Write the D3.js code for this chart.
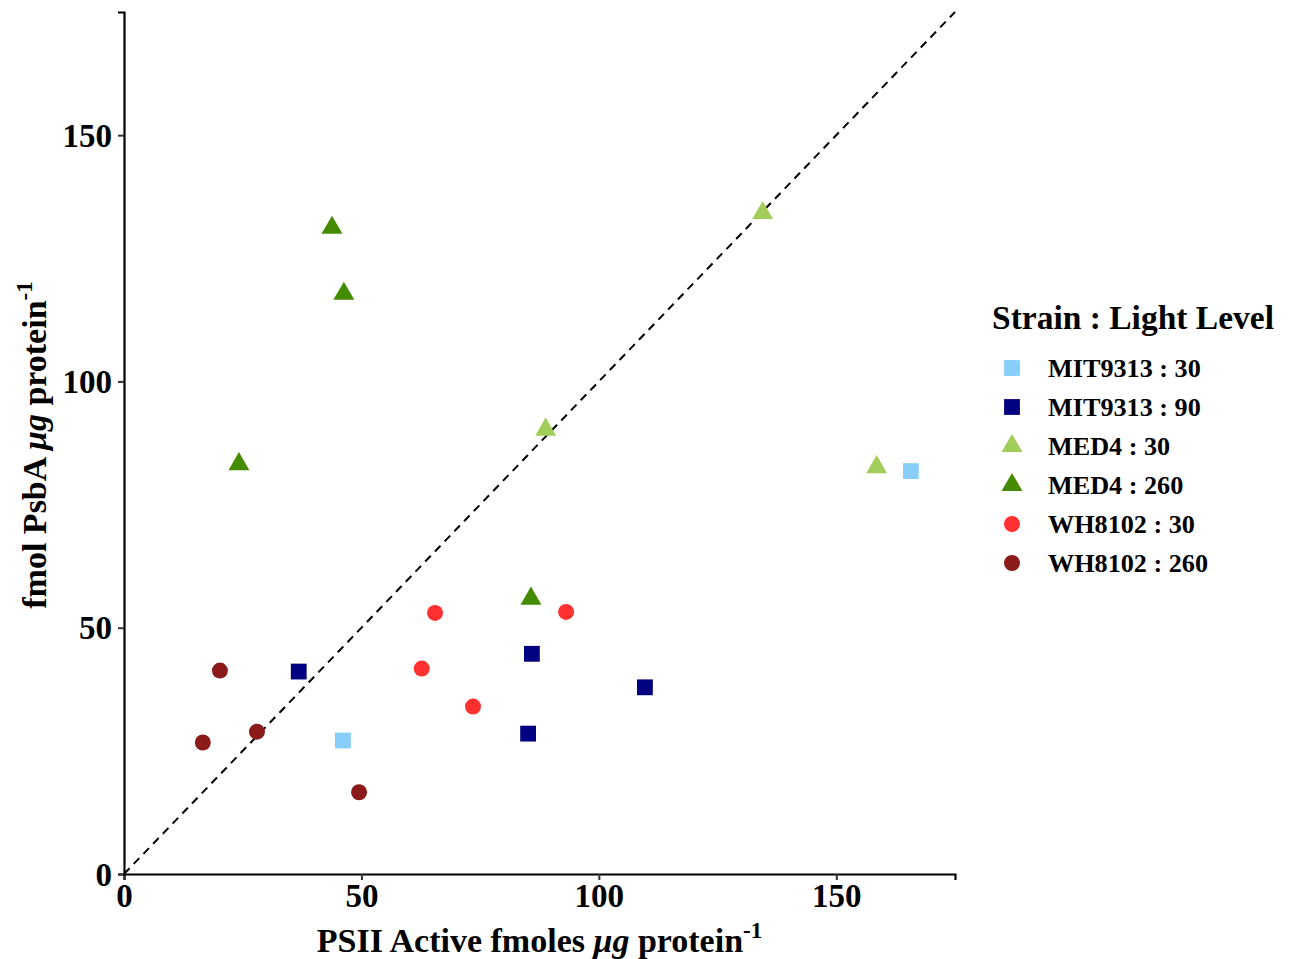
<!DOCTYPE html>
<html>
<head>
<meta charset="utf-8">
<script src="https://cdn.jsdelivr.net/npm/d3@7"></script>
<style>
  body { margin: 0; background: #fff; }
  text { font-family: "Liberation Serif", "Times New Roman", serif; font-weight: bold; }
</style>
</head>
<body>
<svg id="chart" width="1295" height="959"></svg>
<script>
// legend groups, in order
var groups = ["MIT9313 : 30", "MIT9313 : 90", "MED4 : 30", "MED4 : 260", "WH8102 : 30", "WH8102 : 260"];
var groupColors = ["#87cefa", "#000080", "#a2cd5a", "#458b00", "#ff3030", "#8b1a1a"];
var groupShapes = ["square", "square", "triangle", "triangle", "circle", "circle"];

// PSII active (x) and PsbA (y) per group
var mit30X = [46.1, 165.7];
var mit30Y = [27.1, 81.8];
var mit90X = [36.8, 85.9, 85.1, 109.7];
var mit90Y = [41.1, 44.7, 28.5, 37.9];
var med30X = [134.5, 88.8, 158.5];
var med30Y = [134.2, 90.2, 82.6];
var med260X = [43.8, 46.3, 24.2, 85.7];
var med260Y = [131.2, 117.8, 83.2, 55.9];
var wh30X = [65.5, 93.1, 62.7, 73.5];
var wh30Y = [53.0, 53.2, 41.7, 34.0];
var wh260X = [20.2, 16.6, 28.0, 49.5];
var wh260Y = [41.3, 26.7, 28.9, 16.6];

var xTicks = [0, 50, 100, 150];
var yTicks = [0, 50, 100, 150];

var seriesX = [mit30X, mit90X, med30X, med260X, wh30X, wh260X];
var seriesY = [mit30Y, mit90Y, med30Y, med260Y, wh30Y, wh260Y];

var points = [];
seriesX.forEach(function(xs, g) {
  xs.forEach(function(x, i) {
    points.push({ group: g, x: x, y: seriesY[g][i] });
  });
});

var svg = d3.select("#chart"),
  margin = { left: 124, top: 12, right: 340, bottom: 85 },
  width = 1295,
  height = 959,
  x = d3.scaleLinear().domain([0, 175]).range([margin.left, width - margin.right]),
  y = d3.scaleLinear().domain([0, 175]).range([height - margin.bottom, margin.top]),
  shapeType = { square: d3.symbolSquare, triangle: d3.symbolTriangle, circle: d3.symbolCircle },
  shapeSize = { square: 250, triangle: 190, circle: 200 };

function symbolPath(g) {
  var s = groupShapes[g];
  return d3.symbol().type(shapeType[s]).size(shapeSize[s])();
}

// diagonal 1:1 line
svg.append("line")
  .attr("x1", x(0)).attr("y1", y(0))
  .attr("x2", x(175)).attr("y2", y(175))
  .attr("stroke", "#000")
  .attr("stroke-width", 2)
  .attr("stroke-dasharray", "8,6");

// axes
var xAxis = svg.append("g")
  .attr("transform", "translate(0," + y(0) + ")")
  .call(d3.axisBottom(x).tickValues(xTicks).tickSize(6).tickPadding(3).tickFormat(d3.format("d")));
var yAxis = svg.append("g")
  .attr("transform", "translate(" + x(0) + ",0)")
  .call(d3.axisLeft(y).tickValues(yTicks).tickSize(6).tickPadding(6).tickFormat(d3.format("d")));

[xAxis, yAxis].forEach(function(a) {
  a.select(".domain").attr("stroke", "#000").attr("stroke-width", 2.2);
  a.selectAll(".tick line").attr("stroke", "#333").attr("stroke-width", 2);
  a.selectAll(".tick text")
    .attr("fill", "#000")
    .style("font-size", "33px")
    .style("font-family", "'Liberation Serif', serif")
    .style("font-weight", "bold");
});
xAxis.selectAll(".tick text").attr("dy", "0.72em");
yAxis.selectAll(".tick text").attr("dy", "0.34em");

// points
svg.append("g")
  .selectAll("path")
  .data(points)
  .enter()
  .append("path")
  .attr("d", function(d) { return symbolPath(d.group); })
  .attr("transform", function(d) { return "translate(" + x(d.x) + "," + y(d.y) + ")"; })
  .attr("fill", function(d) { return groupColors[d.group]; });

// axis titles
var xTitle = svg.append("text")
  .attr("x", (x(0) + x(175)) / 2)
  .attr("y", 952)
  .attr("text-anchor", "middle")
  .style("font-size", "34px");
xTitle.append("tspan").text("PSII Active fmoles ");
xTitle.append("tspan").style("font-style", "italic").text("\u03bcg");
xTitle.append("tspan").text(" protein");
xTitle.append("tspan").attr("dy", -14).style("font-size", "23px").text("-1");

var yTitle = svg.append("text")
  .attr("transform", "translate(46," + ((y(0) + y(175)) / 2 + 2) + ") rotate(-90)")
  .attr("text-anchor", "middle")
  .style("font-size", "34px");
yTitle.append("tspan").text("fmol PsbA ");
yTitle.append("tspan").style("font-style", "italic").text("\u03bcg");
yTitle.append("tspan").text(" protein");
yTitle.append("tspan").attr("dy", -14).style("font-size", "23px").text("-1");

// legend
var legend = svg.append("g").attr("transform", "translate(992,0)");
legend.append("text")
  .attr("x", 0)
  .attr("y", 329)
  .style("font-size", "33.5px")
  .text("Strain : Light Level");

var rows = legend.selectAll("g.row")
  .data(groups)
  .enter()
  .append("g")
  .attr("class", "row")
  .attr("transform", function(d, i) { return "translate(0," + (368 + i * 39) + ")"; });

rows.append("path")
  .attr("d", function(d, i) { return symbolPath(i); })
  .attr("transform", "translate(20,0)")
  .attr("fill", function(d, i) { return groupColors[i]; });

rows.append("text")
  .attr("x", 56)
  .attr("dy", "0.35em")
  .style("font-size", "26.2px")
  .text(function(d) { return d; });
</script>
</body>
</html>
